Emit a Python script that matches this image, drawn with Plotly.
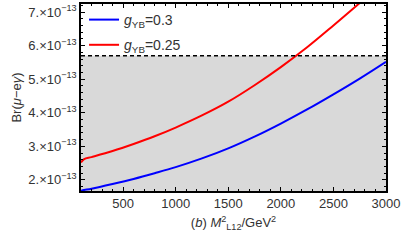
import plotly.graph_objects as go

# Data
m2 = [100, 130, 200, 400, 600, 800, 1000, 1250, 1500, 1750, 2000, 2250, 2500, 2750, 3000]
br_g03 = [1.68, 1.70, 1.74, 1.88, 2.03, 2.20, 2.38, 2.64, 2.94, 3.29, 3.68, 4.10, 4.55, 5.02, 5.52]
br_g025 = [2.52, 2.62, 2.68, 2.86, 3.07, 3.30, 3.56, 3.92, 4.33, 4.82, 5.36, 5.95, 6.60, 7.27, 7.95]
scale = 1e-13
br_g03 = [v * scale for v in br_g03]
br_g025 = [v * scale for v in br_g025]
meg_bound = 5.7e-13
x_range = [100, 3000]
y_range = [1.67e-13, 7.24e-13]
x_ticks = [500, 1000, 1500, 2000, 2500, 3000]
y_tick_vals = [2e-13, 3e-13, 4e-13, 5e-13, 6e-13, 7e-13]
y_tick_text = [f"{k}.×10<sup>−13</sup>" for k in [2, 3, 4, 5, 6, 7]]

FONT = "Liberation Sans, Arial, sans-serif"

fig = go.Figure()
fig.add_shape(type="rect", xref="x", yref="y", x0=x_range[0], x1=x_range[1],
              y0=y_range[0], y1=meg_bound, fillcolor="#d9d9d9", line_width=0, layer="below")
fig.add_shape(type="line", xref="x", yref="y", x0=x_range[0], x1=x_range[1],
              y0=meg_bound, y1=meg_bound, line=dict(color="black", width=1.5, dash="4px,3px"))

fig.add_trace(go.Scatter(x=m2, y=br_g03, mode="lines",
                         line=dict(color="#0000ff", width=2, shape="spline", smoothing=1),
                         name="<i>g</i><sub>YB</sub>=0.3", legendgroup="a"))
fig.add_trace(go.Scatter(x=m2, y=br_g025, mode="lines",
                         line=dict(color="#ff0000", width=2, shape="spline", smoothing=1),
                         name="<i>g</i><sub>YB</sub>=0.25", legendgroup="b"))

axis_common = dict(showline=True, linecolor="black", linewidth=1.5, mirror="allticks",
                   ticks="inside", ticklen=4, tickwidth=1, tickcolor="black",
                   showgrid=False, zeroline=False, automargin=False,
                   tickfont=dict(family=FONT, size=13, color="#333"))

fig.update_xaxes(range=x_range, tickvals=x_ticks,
                 minor=dict(dtick=100, ticks="inside", ticklen=2, tickcolor="black", showgrid=False),
                 title=dict(text="(<i>b</i>) <i>M</i><sup>2</sup><sub>L12</sub>/GeV<sup>2</sup>",
                            font=dict(family=FONT, size=13, color="#333"), standoff=8),
                 **axis_common)
fig.update_yaxes(range=y_range, tickvals=y_tick_vals, ticktext=y_tick_text,
                 minor=dict(dtick=0.2e-13, tick0=0, ticks="inside", ticklen=2, tickcolor="black", showgrid=False),
                 title=dict(text="Br(<i>μ</i>−e<i>γ</i>)", font=dict(family=FONT, size=13, color="#333"),
                            standoff=4),
                 **axis_common)

fig.update_layout(
    width=402, height=241,
    margin=dict(l=81, r=16, t=4, b=50),
    paper_bgcolor="white", plot_bgcolor="white",
    font=dict(family=FONT, size=13, color="#333"),
    showlegend=True,
    legend=dict(x=0.01, y=1.0, xanchor="left", yanchor="top", bgcolor="rgba(0,0,0,0)",
                font=dict(family=FONT, size=14, color="#333"), tracegroupgap=4,
                itemwidth=30),
)

fig.write_html("out.html", post_script="document.body.style.margin='0px';",
               config={"displayModeBar": False})
